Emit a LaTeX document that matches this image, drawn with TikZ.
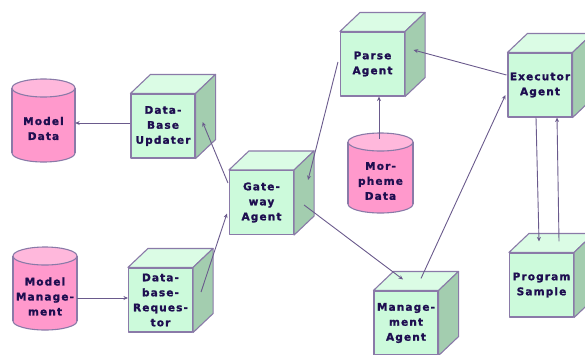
\documentclass[tikz,border=0pt]{standalone}
\usepackage{fontspec}
\setmainfont{DejaVu Sans}
\newfontfamily\labelfont[LetterSpace=11,FakeBold=1.6]{DejaVu Sans Bold}
\usetikzlibrary{arrows.meta,calc}

\definecolor{edgeline}{HTML}{8A7AA8}
\definecolor{linkline}{HTML}{6A5A8C}
\definecolor{labelink}{HTML}{1E0E50}
\definecolor{cubefront}{HTML}{CCFADB}
\definecolor{cubetop}{HTML}{DBFCE5}
\definecolor{cubeside}{HTML}{A3CDAF}
\definecolor{cylbody}{HTML}{FF99CC}
\definecolor{cyltop}{HTML}{FFB8DC}

\tikzset{
  lbl/.style={font=\labelfont\fontsize{10.5}{15}\selectfont, text=labelink, align=center, inner sep=0pt},
  edge/.style={draw=edgeline, line width=1.1pt, line join=round},
  frontface/.style={lbl, edge, fill=cubefront, minimum width=64pt, minimum height=64pt},
  conn/.style={draw=linkline, line width=0.9pt, -{Stealth[length=4.5pt,width=4pt]}},
}

% agent box drawn as a cube: name, centre x, centre y, label
\newcommand\agentcube[4]{%
  \node[frontface] (#1) at (#2,#3) {#4};
  \filldraw[edge, fill=cubetop] (#1.north west) -- ++(20,-19) -- ($(#1.north east)+(20,-19)$) -- (#1.north east) -- cycle;
  \filldraw[edge, fill=cubeside] (#1.north east) -- ++(20,-19) -- ($(#1.south east)+(20,-19)$) -- (#1.south east) -- cycle;
}

% data store drawn as a cylinder: name, centre x, top y, bottom y, half width, label
\newcommand\datacyl[6]{%
  \filldraw[edge, fill=cylbody] ({#2},{#4-9}) ellipse [x radius=#5, y radius=9];
  \fill[cylbody] ({#2-#5},{#3+9}) rectangle ({#2+#5},{#4-9});
  \draw[edge] ({#2-#5},{#3+9}) -- ({#2-#5},{#4-9}) ({#2+#5},{#3+9}) -- ({#2+#5},{#4-9});
  \filldraw[edge, fill=cyltop] ({#2},{#3+9}) ellipse [x radius=#5, y radius=9];
  \node[lbl, minimum width={2*#5pt}, minimum height={(#4-#3-18)*1pt}] (#1) at ({#2},{(#3+#4)/2+8}) {#6};
}

\begin{document}
\begin{tikzpicture}[x=1pt, y=-1pt]
  \useasboundingbox (0,0) rectangle (585,354);
  \clip (0,0) rectangle (585,354);

  % data stores
  \datacyl{md}{43.5}{79}{162}{31.5}{Model\\Data}
  \datacyl{mm}{45}{247}{330}{32}{Model\\Manage-\\ment}
  \datacyl{mo}{380.5}{133}{213}{32.5}{Mor-\\pheme\\Data}

  % agents
  \agentcube{upd}{163}{126}{Data-\\Base\\Updater}
  \agentcube{req}{160.5}{300}{Data-\\base-\\Reques-\\tor}
  \agentcube{pa}{372.5}{64}{Parse\\Agent}
  \agentcube{gw}{261.5}{202.5}{Gate-\\way\\Agent}
  \agentcube{mg}{406}{323}{Manage-\\ment\\Agent}
  \agentcube{ex}{540}{85}{Executor\\Agent}
  \agentcube{ps}{541.5}{285}{Program\\Sample}

  % connector ends on the shapes
  \coordinate (updout) at ($(upd.west)+(0,-3)$);
  \coordinate (reqin) at ($(req.west)+(0,-2)$);
  \coordinate (moout) at ($(mo.north)+(-1.5,-11)$);

  % message flow
  \draw[conn] (updout) -- (updout -| md.east);
  \draw[conn] (reqin -| mm.east) -- (reqin);
  \draw[conn] ($(req.east)+(8,-8)$) -- ($(gw.west)+(-2,11)$);
  \draw[conn] ($(gw.west)+(-1,-19.5)$) -- ($(upd.east)+(7,-4)$);
  \draw[conn] ($(pa.west)+(-2,-2)$) -- ($(gw.east)+(14,-22.5)$);
  \draw[conn] (moout) -- (moout |- pa.south);
  \draw[conn] ($(ex.west)+(-1,-10)$) -- ($(pa.east)+(8.5,-14)$);
  \draw[conn] ($(gw.east)+(10,2.5)$) -- ($(mg.north)+(-3,-11)$);
  \draw[conn] ($(mg.north)+(15,-12)$) -- ($(ex.west)+(-2,10)$);
  \draw[conn] ($(ex.south)+(-4,0)$) -- ($(ps.north)+(-2.5,-11)$);
  \draw[conn] ($(ps.north)+(17.5,-11)$) -- ($(ex.south)+(17,0)$);
\end{tikzpicture}
\end{document}
